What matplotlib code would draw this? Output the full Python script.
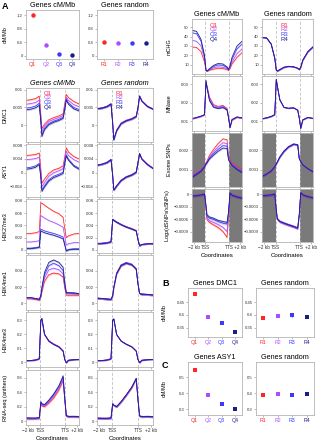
import numpy as np
import matplotlib.pyplot as plt

plt.rcParams['font.family'] = ['Liberation Sans', 'DejaVu Sans']
plt.rcParams['axes.unicode_minus'] = True

W, H = 321, 440

# profile bins, scaled 0-100 (-2 kb .. TSS .. TTS .. +2 kb)
bins = [0, 9, 18, 25, 28, 30, 35, 43, 52, 62, 70, 73, 76, 80, 90, 100]
tss, tts = 27, 74
coord_ticks = [4, 27, 74, 96]
coord_labels = ['\u22122 kb', 'TSS', 'TTS', '+2 kb']

quart = ['Q1', 'Q2', 'Q3', 'Q4']
rand = ['R1', 'R2', 'R3', 'R4']
colors = ['#ff2626', '#b04cff', '#3a3aff', '#1c1c8a']

# cM/Mb per group
cm_q = [1.20, 0.32, 0.06, 0.01]
cm_r = [0.40, 0.39, 0.38, 0.38]
dmc1_cm = [0.483, 0.391, 0.367, 0.331]
dmc1_cm_err = [0.005, 0.004, 0.004, 0.004]
dmc1_rnd = [0.387, 0.396, 0.398, 0.392]
dmc1_rnd_err = [0.005, 0.005, 0.005, 0.005]
asy1_cm = [0.548, 0.387, 0.333, 0.302]
asy1_cm_err = [0.005, 0.004, 0.004, 0.004]
asy1_rnd = [0.387, 0.394, 0.387, 0.394]
asy1_rnd_err = [0.005, 0.005, 0.005, 0.005]

# profiles, Q1..Q4 and R1..R4
dmc1_q = [
    [.0070, .0072, .0075, .0082, .0030, -.0010, .0003, .0015, .0021, .0026, .0032, .0060, .0087, .0078, .0067, .0060],
    [.0059, .0061, .0064, .0071, .0020, -.0018, -.0003, .0010, .0016, .0021, .0027, .0052, .0079, .0070, .0058, .0052],
    [.0048, .0050, .0054, .0062, .0012, -.0027, -.0009, .0004, .0011, .0016, .0022, .0046, .0074, .0063, .0050, .0044],
    [.0043, .0045, .0049, .0056, .0008, -.0033, -.0013, .0001, .0008, .0013, .0019, .0042, .0071, .0059, .0046, .0040]]
dmc1_r = [
    [.0047, .0049, .0053, .0060, .0005, -.0040, -.0015, .0005, .0013, .0018, .0025, .0048, .0082, .0068, .0053, .0046],
    [.0046, .0049, .0054, .0061, .0006, -.0041, -.0014, .0006, .0014, .0019, .0026, .0049, .0081, .0067, .0054, .0045],
    [.0047, .0048, .0053, .0059, .0004, -.0042, -.0016, .0004, .0012, .0017, .0024, .0047, .0083, .0069, .0052, .0046],
    [.0046, .0048, .0052, .0060, .0005, -.0043, -.0016, .0004, .0012, .0017, .0024, .0047, .0082, .0068, .0053, .0045]]
asy1_q = [
    [.0050, .0051, .0053, .0057, .0010, -.0030, -.0018, -.0002, .0008, .0013, .0020, .0045, .0072, .0060, .0047, .0040],
    [.0038, .0039, .0041, .0045, .0000, -.0040, -.0028, -.0010, .0000, .0006, .0012, .0038, .0062, .0050, .0038, .0031],
    [.0014, .0016, .0020, .0027, -.0012, -.0049, -.0037, -.0020, -.0010, -.0004, .0002, .0028, .0052, .0040, .0022, .0013],
    [.0010, .0012, .0016, .0024, -.0015, -.0054, -.0041, -.0024, -.0014, -.0008, -.0002, .0025, .0048, .0036, .0019, .0010]]
asy1_r = [
    [.0022, .0025, .0030, .0038, -.0008, -.0050, -.0038, -.0022, -.0012, -.0006, .0002, .0028, .0055, .0040, .0024, .0013],
    [.0023, .0025, .0031, .0039, -.0007, -.0049, -.0037, -.0021, -.0011, -.0005, .0003, .0029, .0054, .0041, .0025, .0014],
    [.0022, .0024, .0030, .0037, -.0008, -.0051, -.0039, -.0022, -.0012, -.0006, .0002, .0027, .0056, .0040, .0023, .0013],
    [.0021, .0025, .0029, .0038, -.0009, -.0050, -.0038, -.0023, -.0013, -.0007, .0001, .0028, .0055, .0039, .0024, .0012]]
k27_q = [
    [.027, .027, .028, .030, .077, .076, .073, .068, .063, .059, .053, .035, .020, .023, .026, .027],
    [.013, .013, .014, .015, .056, .055, .052, .048, .045, .041, .037, .022, .008, .010, .012, .012],
    [.003, .003, .004, .005, .034, .033, .031, .029, .027, .024, .021, .010, -.001, .001, .002, .002],
    [.002, .002, .003, .004, .031, .030, .028, .026, .024, .021, .018, .008, -.002, .000, .001, .001]]
k27_r = [
    [.010, .011, .012, .013, .050, .048, .045, .041, .038, .035, .032, .018, .007, .009, .010, .010],
    [.010, .011, .012, .013, .049, .048, .045, .041, .038, .035, .031, .018, .007, .009, .010, .010],
    [.011, .011, .012, .014, .050, .049, .046, .042, .038, .034, .031, .017, .006, .009, .010, .011],
    [.010, .010, .011, .013, .050, .048, .045, .041, .037, .034, .031, .017, .007, .009, .010, .010]]
k4me1_q = [
    [.006, .006, .005, .004, .008, .014, .027, .035, .037, .036, .032, .019, .010, .010, .010, .010],
    [.007, .006, .006, .005, .009, .016, .031, .041, .043, .041, .036, .021, .012, .012, .012, .011],
    [.007, .007, .006, .005, .009, .018, .035, .046, .049, .046, .040, .024, .013, .013, .012, .012],
    [.007, .007, .006, .005, .010, .020, .038, .050, .053, .050, .044, .026, .013, .013, .013, .012]]
k4me1_r = [
    [.006, .006, .005, .005, .009, .019, .036, .046, .049, .047, .042, .025, .012, .011, .011, .010],
    [.006, .006, .005, .005, .009, .019, .037, .047, .049, .047, .041, .025, .012, .011, .011, .010],
    [.007, .006, .006, .005, .010, .020, .037, .047, .050, .048, .042, .025, .012, .012, .011, .011],
    [.006, .006, .005, .005, .009, .019, .036, .046, .049, .047, .042, .024, .012, .011, .011, .010]]
k4me3_q = [
    [.010, .012, .016, .025, .300, .305, .200, .155, .132, .113, .082, .022, -.004, .014, .018, .020],
    [.010, .012, .016, .025, .295, .300, .195, .152, .130, .111, .080, .021, -.005, .014, .018, .020],
    [.010, .012, .015, .024, .300, .310, .198, .150, .128, .110, .079, .020, -.005, .013, .017, .019],
    [.010, .011, .015, .024, .305, .315, .200, .150, .127, .108, .078, .019, -.006, .013, .017, .019]]
k4me3_r = [
    [.010, .012, .016, .025, .300, .308, .198, .152, .130, .111, .080, .021, -.005, .014, .018, .020],
    [.010, .012, .016, .025, .302, .310, .199, .152, .130, .110, .080, .021, -.005, .014, .018, .020],
    [.010, .012, .015, .024, .301, .309, .197, .151, .129, .110, .079, .020, -.005, .013, .017, .019],
    [.010, .011, .015, .024, .303, .311, .199, .151, .129, .110, .079, .020, -.005, .013, .017, .019]]
rna_q = [
    [.030, .030, .032, .035, .230, .210, .200, .250, .320, .430, .560, .300, .070, .060, .062, .058],
    [.035, .035, .036, .040, .240, .220, .210, .265, .340, .450, .580, .310, .070, .062, .062, .060],
    [.042, .040, .040, .045, .260, .235, .225, .285, .365, .480, .610, .320, .075, .065, .065, .062],
    [.045, .042, .042, .048, .270, .240, .230, .290, .375, .490, .630, .330, .075, .065, .066, .064]]
rna_r = [
    [.040, .038, .038, .042, .240, .220, .200, .265, .355, .465, .590, .310, .070, .062, .065, .060],
    [.041, .038, .039, .042, .242, .221, .202, .270, .360, .470, .592, .312, .070, .062, .064, .060],
    [.040, .039, .038, .043, .238, .219, .199, .268, .358, .468, .588, .309, .071, .063, .065, .061],
    [.041, .038, .038, .042, .240, .220, .201, .270, .362, .472, .595, .311, .070, .062, .065, .060]]
mchg_q = [
    [29.0, 28.5, 24.0, 13.0, 4.0, 3.5, 4.5, 5.5, 6.5, 6.2, 5.0, 4.0, 6.0, 11.0, 18.0, 23.0],
    [36.0, 35.0, 30.0, 16.0, 4.0, 3.5, 5.0, 7.0, 8.0, 7.5, 6.0, 4.5, 7.0, 13.0, 22.0, 27.0],
    [44.0, 43.0, 35.0, 19.0, 4.5, 3.5, 5.5, 8.5, 10.0, 9.5, 7.0, 5.0, 8.5, 16.0, 27.0, 32.0],
    [46.5, 45.5, 37.0, 20.0, 4.5, 3.5, 6.0, 9.5, 11.5, 11.0, 8.0, 5.5, 9.0, 18.0, 30.0, 35.0]]
mchg_r = [
    [39.0, 38.5, 32.0, 17.0, 4.5, 3.5, 5.0, 7.5, 8.5, 8.0, 6.5, 5.0, 7.5, 15.0, 24.0, 29.0],
    [39.2, 38.6, 32.2, 17.2, 4.5, 3.5, 5.0, 7.6, 8.6, 8.1, 6.5, 5.0, 7.6, 15.1, 24.2, 29.2],
    [38.8, 38.3, 31.8, 16.8, 4.4, 3.5, 5.0, 7.4, 8.4, 7.9, 6.4, 4.9, 7.4, 14.9, 23.8, 28.8],
    [39.1, 38.5, 32.1, 17.1, 4.5, 3.5, 5.1, 7.5, 8.5, 8.0, 6.5, 5.0, 7.5, 15.0, 24.1, 29.1]]
mnase_q = [
    [.0112, .0118, .0125, .0135, .0305, .0290, .0230, .0190, .0180, .0185, .0170, .0125, .0068, .0105, .0120, .0115],
    [.0113, .0119, .0126, .0135, .0310, .0285, .0222, .0185, .0176, .0181, .0166, .0123, .0067, .0107, .0121, .0116],
    [.0114, .0120, .0127, .0135, .0315, .0282, .0215, .0178, .0171, .0177, .0162, .0121, .0066, .0109, .0123, .0118],
    [.0115, .0121, .0128, .0136, .0320, .0280, .0210, .0175, .0168, .0173, .0160, .0120, .0065, .0110, .0124, .0119]]
mnase_r = [
    [.0113, .0118, .0126, .0136, .0325, .0290, .0215, .0175, .0170, .0172, .0160, .0118, .0062, .0108, .0120, .0115],
    [.0114, .0119, .0126, .0136, .0323, .0289, .0216, .0176, .0170, .0173, .0161, .0119, .0063, .0108, .0121, .0116],
    [.0113, .0118, .0125, .0135, .0326, .0291, .0214, .0174, .0169, .0172, .0159, .0118, .0062, .0107, .0120, .0115],
    [.0114, .0119, .0126, .0136, .0324, .0290, .0215, .0175, .0170, .0172, .0160, .0118, .0062, .0108, .0121, .0116]]
exome_q = [
    [.00072, .00085, .00100, .00120, .00135, .00145, .00175, .00205, .00235, .00260, .00255, .00170, .00150, .00135, .00115, .00100],
    [.00070, .00082, .00098, .00118, .00132, .00140, .00165, .00192, .00218, .00240, .00235, .00160, .00145, .00130, .00110, .00095],
    [.00066, .00079, .00095, .00116, .00130, .00138, .00160, .00183, .00205, .00225, .00222, .00155, .00140, .00125, .00105, .00090],
    [.00060, .00075, .00092, .00114, .00128, .00135, .00155, .00175, .00195, .00212, .00210, .00150, .00138, .00122, .00100, .00085]]
exome_r = [
    [.00065, .00078, .00094, .00116, .00130, .00140, .00165, .00195, .00218, .00232, .00228, .00158, .00142, .00125, .00105, .00090],
    [.00066, .00079, .00095, .00117, .00131, .00141, .00167, .00197, .00220, .00234, .00230, .00159, .00143, .00126, .00106, .00091],
    [.00064, .00077, .00093, .00115, .00129, .00139, .00164, .00193, .00216, .00230, .00227, .00157, .00141, .00124, .00104, .00089],
    [.00065, .00078, .00094, .00116, .00130, .00140, .00166, .00196, .00219, .00233, .00229, .00158, .00142, .00125, .00105, .00090]]
logsnp_q = [
    [-.00004, -.00003, -.00002, .00000, -.00035, -.00062, -.00068, -.00074, -.00080, -.00090, -.00104, -.00060, .00003, -.00002, -.00006, -.00009],
    [-.00004, -.00003, -.00002, .00000, -.00032, -.00058, -.00064, -.00068, -.00073, -.00080, -.00090, -.00052, .00003, -.00002, -.00006, -.00009],
    [-.00004, -.00003, -.00002, .00000, -.00030, -.00054, -.00058, -.00061, -.00066, -.00070, -.00072, -.00045, .00003, -.00002, -.00006, -.00009],
    [-.00005, -.00004, -.00002, .00000, -.00028, -.00050, -.00055, -.00058, -.00063, -.00066, -.00068, -.00043, .00002, -.00003, -.00007, -.00010]]
logsnp_r = [
    [-.00004, -.00003, -.00002, .00000, -.00040, -.00060, -.00066, -.00070, -.00074, -.00078, -.00082, -.00050, .00003, -.00002, -.00006, -.00009],
    [-.00004, -.00003, -.00002, .00000, -.00041, -.00061, -.00067, -.00071, -.00075, -.00079, -.00083, -.00051, .00003, -.00002, -.00006, -.00009],
    [-.00004, -.00003, -.00002, .00000, -.00039, -.00059, -.00065, -.00069, -.00073, -.00077, -.00081, -.00049, .00003, -.00002, -.00006, -.00009],
    [-.00004, -.00003, -.00002, .00000, -.00040, -.00060, -.00066, -.00070, -.00074, -.00078, -.00082, -.00050, .00003, -.00002, -.00006, -.00009]]

fig = plt.figure(figsize=(W / 100, H / 100), dpi=100)

FRAME = '#b4b4b4'


def add(l, t, r, b):
    ax = fig.add_axes([l / W, 1 - b / H, (r - l) / W, (b - t) / H])
    for s in ax.spines.values():
        s.set_color(FRAME)
        s.set_linewidth(0.6)
    ax.tick_params(length=1.3, width=0.4, pad=1, labelsize=3.1,
                   color='#888888', labelcolor='#333333')
    return ax


def profile(box, series, ylim, yticks, ylabels, ci, ylabel=None, legend=None,
            shaded=False, bottom=False, title=None, ylx=-0.34):
    ax = add(*box)
    if shaded:
        ax.axvspan(0, tss, color='#7a7a7a', lw=0, zorder=0.3)
        ax.axvspan(tts, 100, color='#7a7a7a', lw=0, zorder=0.3)
    for xv in (tss, tts):
        ax.axvline(xv, color='#b0b0b0', lw=0.5, dashes=(4, 2.5), zorder=0.5)
    for vals, c in zip(series, colors):
        v = np.array(vals)
        ax.fill_between(bins, v - ci, v + ci, color=c, alpha=0.25, lw=0)
        ax.plot(bins, v, color=c, lw=0.55)
    ax.set_xlim(0, 100)
    ax.set_ylim(*ylim)
    ax.set_yticks(yticks)
    ax.set_yticklabels(ylabels)
    ax.set_xticks(coord_ticks)
    if bottom:
        ax.set_xticklabels(coord_labels, fontsize=3.4)
        ax.set_xlabel('Coordinates', fontsize=4.4, labelpad=2)
    else:
        ax.set_xticklabels([])
    if ylabel:
        ax.set_ylabel(ylabel, fontsize=4.0)
        ax.yaxis.set_label_coords(ylx, 0.5)
    if title:
        ax.set_title(title, fontsize=5.2, pad=2)
    if legend:
        for i, (name, c) in enumerate(zip(legend[0], colors)):
            ax.text(legend[1], legend[2] - i * 0.085, name, color=c, fontsize=4.3,
                    transform=ax.transAxes, va='center')
    return ax


def dots(box, vals, labels, ylim, yticks, ylabels, err=None, marker='o', ms=3.2,
         title=None, ylabel=None, ylx=-0.34):
    ax = add(*box)
    xs = np.arange(1, 5)
    for x, v, c, i in zip(xs, vals, colors, range(4)):
        if err is None:
            ax.plot(x, v, marker=marker, color=c, ms=ms, mew=0)
        else:
            ax.errorbar(x, v, yerr=err[i], fmt=marker, color=c, ms=ms, mew=0,
                        elinewidth=0.7, capsize=0)
    ax.set_xlim(0.5, 4.5)
    ax.set_ylim(*ylim)
    ax.set_yticks(yticks)
    ax.set_yticklabels(ylabels)
    ax.set_xticks(xs)
    ax.set_xticklabels(labels, fontsize=3.8)
    for lbl, c in zip(ax.get_xticklabels(), colors):
        lbl.set_color(c)
    if title:
        ax.set_title(title, fontsize=5.2, pad=2.5)
    if ylabel:
        ax.set_ylabel(ylabel, fontsize=4.0)
        ax.yaxis.set_label_coords(ylx, 0.5)
    return ax


# ---- panel A, left block ----
LX = [(26, 79), (97, 153)]
cm_ticks = [0, 0.4, 0.8, 1.2]
cm_lbls = ['0', '0.4', '0.8', '1.2']
dots((LX[0][0], 10, LX[0][1], 59), cm_q, quart, (-0.1, 1.36), cm_ticks, cm_lbls,
     title='Genes cM/Mb', ylabel='cM/Mb')
dots((LX[1][0], 10, LX[1][1], 59), cm_r, rand, (-0.1, 1.36), cm_ticks, cm_lbls,
     title='Genes random')

rows = [
    ('DMC1', dmc1_q, dmc1_r, (88, 142), (-0.0048, 0.0105), [0, 0.005, 0.01], ['0', '0.005', '0.01'], 0.00025),
    ('ASY1', asy1_q, asy1_r, (144, 197), (-0.007, 0.0083), [-0.004, 0, 0.004, 0.008], ['\u22120.004', '0', '0.004', '0.008'], 0.00025),
    ('H3K27me3', k27_q, k27_r, (199, 253), (-0.005, 0.083), [0, 0.02, 0.04, 0.06, 0.08], ['0', '0.02', '0.04', '0.06', '0.08'], 0.0012),
    ('H3K4me1', k4me1_q, k4me1_r, (255, 310), (-0.008, 0.059), [0, 0.02, 0.04], ['0', '0.02', '0.04'], 0.0012),
    ('H3K4me3', k4me3_q, k4me3_r, (312, 367), (-0.035, 0.36), [0, 0.1, 0.2, 0.3], ['0', '0.1', '0.2', '0.3'], 0.004),
    ('RNA-seq (anthers)', rna_q, rna_r, (370, 425), (-0.055, 0.71), [0, 0.2, 0.4, 0.6], ['0', '0.2', '0.4', '0.6'], 0.015),
]
for k, (name, sq, sr, (t, b), yl, yt, ytl, ci) in enumerate(rows):
    last = k == len(rows) - 1
    first = k == 0
    profile((LX[0][0], t, LX[0][1], b), sq, yl, yt, ytl, ci, ylabel=name,
            bottom=last, title='Genes cM/Mb' if first else None,
            legend=(quart, 0.33, 0.9) if first else None)
    profile((LX[1][0], t, LX[1][1], b), sr, yl, yt, ytl, ci,
            bottom=last, title='Genes random' if first else None,
            legend=(rand, 0.33, 0.9) if first else None)
for ax in fig.axes[2:4]:
    ax.title.set_fontstyle('italic')

# ---- panel A, right block ----
RX = [(192, 242), (262, 313)]
rrows = [
    ('mCHG', mchg_q, mchg_r, (19, 74), (0.4, 58.5), [10, 20, 30, 40, 50], ['10', '20', '30', '40', '50'], 0.6, False),
    ('MNase', mnase_q, mnase_r, (76, 131), (0.0048, 0.0343), [0.01, 0.02, 0.03], ['0.01', '0.02', '0.03'], 0.0002, False),
    ('Exome SNPs', exome_q, exome_r, (133, 187), (0.0001, 0.0029), [0.001, 0.002], ['0.001', '0.002'], 0.00004, True),
    ('Log$_2$(dSNPs/sSNPs)', logsnp_q, logsnp_r, (189, 242), (-0.00115, 0.00012), [-0.0009, -0.0006, -0.0003, 0],
     ['\u22120.0009', '\u22120.0006', '\u22120.0003', '0'], 0.00003, True),
]
for k, (name, sq, sr, (t, b), yl, yt, ytl, ci, sh) in enumerate(rrows):
    last = k == len(rrows) - 1
    first = k == 0
    profile((RX[0][0], t, RX[0][1], b), sq, yl, yt, ytl, ci, ylabel=name, shaded=sh,
            bottom=last, title='Genes cM/Mb' if first else None,
            legend=(quart, 0.36, 0.89) if first else None, ylx=-0.4)
    profile((RX[1][0], t, RX[1][1], b), sr, yl, yt, ytl, ci, shaded=sh,
            bottom=last, title='Genes random' if first else None,
            legend=(rand, 0.36, 0.89) if first else None)

# ---- panels B and C ----
BX = [(188, 242), (256, 314)]
bt = [0.35, 0.4, 0.45]
bl = ['0.35', '0.4', '0.45']
dots((BX[0][0], 288, BX[0][1], 337), dmc1_cm, quart, (0.313, 0.506), bt, bl,
     err=dmc1_cm_err, marker='s', ms=2.6, title='Genes DMC1', ylabel='cM/Mb', ylx=-0.4)
dots((BX[1][0], 288, BX[1][1], 337), dmc1_rnd, rand, (0.313, 0.506), bt, bl,
     err=dmc1_rnd_err, marker='s', ms=2.6, title='Genes random')
ct = [0.3, 0.4, 0.5]
cl = ['0.3', '0.4', '0.5']
dots((BX[0][0], 362, BX[0][1], 415), asy1_cm, quart, (0.264, 0.597), ct, cl,
     err=asy1_cm_err, marker='s', ms=2.6, title='Genes ASY1', ylabel='cM/Mb', ylx=-0.4)
dots((BX[1][0], 362, BX[1][1], 415), asy1_rnd, rand, (0.264, 0.597), ct, cl,
     err=asy1_rnd_err, marker='s', ms=2.6, title='Genes random')

for letter, x, y in [('A', 2, 2), ('B', 162, 279), ('C', 162, 361)]:
    fig.text(x / W, 1 - y / H, letter, fontsize=6.5, fontweight='bold', va='top')

fig.savefig('out.png', dpi=100)
